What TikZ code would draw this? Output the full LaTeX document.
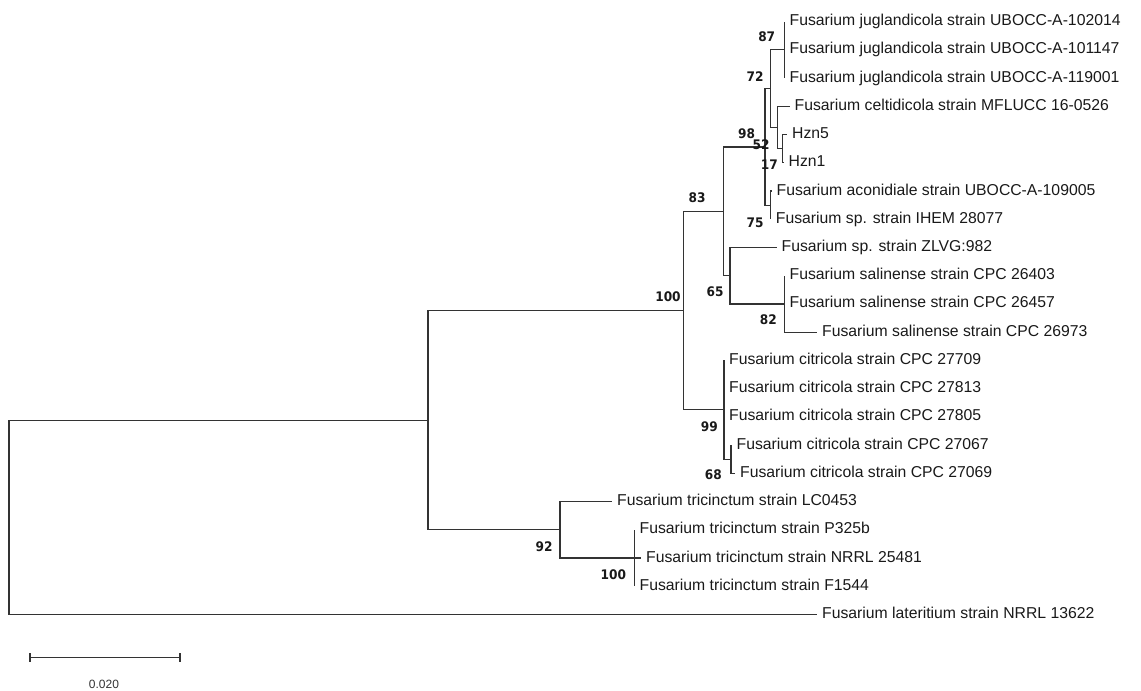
\documentclass[tikz,border=0pt]{standalone}
\usepackage{fontspec}
\setmainfont{Liberation Sans}
\newfontfamily\bsfont[FakeStretch=0.92]{DejaVu Sans}
\begin{document}
\begin{tikzpicture}[x=1pt,y=-1pt,
  br/.style={draw=black!80,line width=1.2pt},
  leaf/.style={anchor=west,inner xsep=5pt,inner ysep=0pt,text height=11pt,text depth=3pt,
    font=\fontsize{15.75}{18}\selectfont,text=black!90},
  bs/.style={inner sep=0pt,font=\bsfont\bfseries\fontsize{13.2}{15}\selectfont,text=black!90},
  scl/.style={inner sep=0pt,font=\fontsize{12}{14}\selectfont,text=black!80}]
\useasboundingbox (0,0) rectangle (1141,691);
% internal nodes
\coordinate (R) at (9,517.4);
\coordinate (A) at (428,420.2);
\coordinate (B) at (683.5,310.6);
\coordinate (C) at (560,529.8);
\coordinate (n83) at (723.3,211.3);
\coordinate (n98) at (765,146.9);
\coordinate (n72) at (770.7,88.6);
\coordinate (n87) at (784.5,49.7);
\coordinate (n52) at (777.3,127.4);
\coordinate (n17) at (782.7,148.6);
\coordinate (n75) at (770.7,205.1);
\coordinate (n65) at (730,275.7);
\coordinate (n82) at (784.5,303.9);
\coordinate (n99) at (724,409.8);
\coordinate (n68) at (731,459.2);
\coordinate (n100) at (634.5,558);
% leaves
\node[leaf] (l0) at (784.5,21.5) {Fusarium juglandicola strain UBOCC-A-102014};
\node[leaf] (l1) at (784.5,49.7) {Fusarium juglandicola strain UBOCC-A-101147};
\node[leaf] (l2) at (784.5,78.0) {Fusarium juglandicola strain UBOCC-A-119001};
\node[leaf] (l3) at (789.5,106.2) {Fusarium celtidicola strain MFLUCC 16-0526};
\node[leaf] (l4) at (787,134.5) {Hzn5};
\node[leaf] (l5) at (783.5,162.7) {Hzn1};
\node[leaf] (l6) at (771.5,191.0) {Fusarium aconidiale strain UBOCC-A-109005};
\node[leaf] (l7) at (770.7,219.2) {Fusarium sp. strain IHEM 28077};
\node[leaf] (l8) at (776.5,247.4) {Fusarium sp. strain ZLVG:982};
\node[leaf] (l9) at (784.5,275.7) {Fusarium salinense strain CPC 26403};
\node[leaf] (l10) at (784.5,303.9) {Fusarium salinense strain CPC 26457};
\node[leaf] (l11) at (817,332.1) {Fusarium salinense strain CPC 26973};
\node[leaf] (l12) at (724,360.4) {Fusarium citricola strain CPC 27709};
\node[leaf] (l13) at (724,388.6) {Fusarium citricola strain CPC 27813};
\node[leaf] (l14) at (724,416.9) {Fusarium citricola strain CPC 27805};
\node[leaf] (l15) at (731.5,445.1) {Fusarium citricola strain CPC 27067};
\node[leaf] (l16) at (735,473.3) {Fusarium citricola strain CPC 27069};
\node[leaf] (l17) at (612,501.6) {Fusarium tricinctum strain LC0453};
\node[leaf] (l18) at (634.5,529.8) {Fusarium tricinctum strain P325b};
\node[leaf] (l19) at (641,558.0) {Fusarium tricinctum strain NRRL 25481};
\node[leaf] (l20) at (634.5,586.3) {Fusarium tricinctum strain F1544};
\node[leaf] (l21) at (817,614.5) {Fusarium lateritium strain NRRL 13622};
% branches
\draw[br] (R) |- (A);
\draw[br] (R) |- (l21.west);
\draw[br] (A) |- (B);
\draw[br] (A) |- (C);
\draw[br] (B) |- (n83);
\draw[br] (B) |- (n99);
\draw[br] (n83) |- (n98);
\draw[br] (n83) |- (n65);
\draw[br] (n98) |- (n72);
\draw[br] (n98) |- (n75);
\draw[br] (n72) |- (n87);
\draw[br] (n72) |- (n52);
\draw[br] (n87) |- (l0.west);
\draw[br] (n87) |- (l1.west);
\draw[br] (n87) |- (l2.west);
\draw[br] (n52) |- (l3.west);
\draw[br] (n52) |- (n17);
\draw[br] (n17) |- (l4.west);
\draw[br] (n17) |- (l5.west);
\draw[br] (n75) |- (l6.west);
\draw[br] (n75) |- (l7.west);
\draw[br] (n65) |- (l8.west);
\draw[br] (n65) |- (n82);
\draw[br] (n82) |- (l9.west);
\draw[br] (n82) |- (l10.west);
\draw[br] (n82) |- (l11.west);
\draw[br] (n99) |- (l12.west);
\draw[br] (n99) |- (l13.west);
\draw[br] (n99) |- (l14.west);
\draw[br] (n99) |- (n68);
\draw[br] (n68) |- (l15.west);
\draw[br] (n68) |- (l16.west);
\draw[br] (C) |- (l17.west);
\draw[br] (C) |- (n100);
\draw[br] (n100) |- (l18.west);
\draw[br] (n100) |- (l19.west);
\draw[br] (n100) |- (l20.west);
% bootstrap values
\node[bs] (b87) at (766.7,36.7) {87};
\node[bs] (b72) at (755,76.7) {72};
\node[bs] (b98) at (746.5,134) {98};
\node[bs] (b52) at (761,144.5) {52};
\node[bs] (b17) at (769.3,165) {17};
\node[bs] (b75) at (755,223) {75};
\node[bs] (b83) at (697,198) {83};
\node[bs] (b100a) at (668,297) {100};
\node[bs] (b65) at (715,292) {65};
\node[bs] (b82) at (768.3,320) {82};
\node[bs] (b99) at (709.3,426.7) {99};
\node[bs] (b68) at (713.3,475) {68};
\node[bs] (b92) at (544,546.7) {92};
\node[bs] (b100b) at (613.3,575) {100};
% scale bar
\coordinate (s1) at (30,657.3);
\coordinate (s2) at (180,657.3);
\draw[br] (s1) -- (s2);
\draw[br] (30,653) -- (30,662);
\draw[br] (180,653) -- (180,662);
\node[scl] (sl) at (104,684) {0.020};
\end{tikzpicture}
\end{document}
